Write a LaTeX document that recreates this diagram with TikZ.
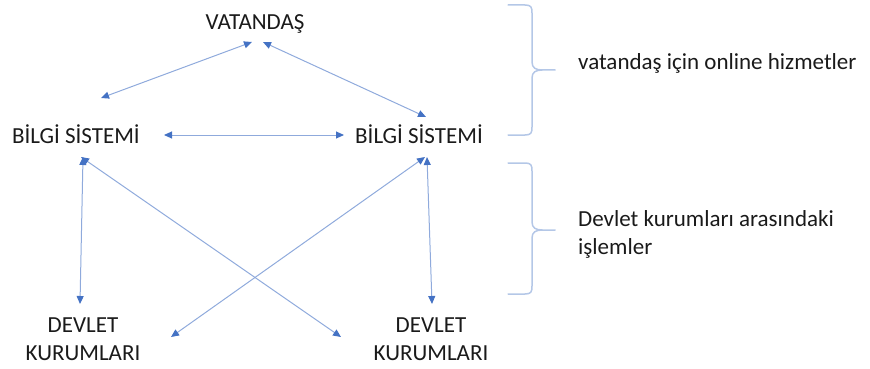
\documentclass[tikz,border=0pt]{standalone}
\usepackage{fontspec}
\setmainfont{Carlito}
\usetikzlibrary{arrows.meta,calc}
\definecolor{linkblue}{HTML}{8FAADC}
\definecolor{tipblue}{HTML}{4472C4}
\definecolor{braceblue}{HTML}{B4C7E7}
\definecolor{ink}{HTML}{1A1A1A}
\tikzset{
  label text/.style={inner sep=0pt, anchor=base, text=ink, font=\fontsize{23}{28}\selectfont},
  side text/.style={label text, anchor=base west, align=left},
  stack text/.style={label text, align=center},
  link/.style={draw=linkblue, line width=1pt,
    {Triangle[length=8pt,width=7pt,color=tipblue]}-{Triangle[length=8pt,width=7pt,color=tipblue]}},
  brace/.style={draw=braceblue, line width=1.5pt, line cap=round, line join=round}
}
\begin{document}
\begin{tikzpicture}[x=1pt,y=-1pt]
  \useasboundingbox (0,0) rectangle (870,369);

  % entities (two-line nodes sit on the baseline of their last line)
  \node[label text] (vat) at (255,30) {VATANDAŞ};
  \node[label text] (bsL) at (76,143) {BİLGİ SİSTEMİ};
  \node[label text] (bsR) at (419,143) {BİLGİ SİSTEMİ};
  \node[stack text] (dkL) at (83,360) {DEVLET\\KURUMLARI};
  \node[stack text] (dkR) at (431,360) {DEVLET\\KURUMLARI};

  % arrow end points around the entities
  \coordinate (vatL) at ($(vat.base)+(-3,12)$);
  \coordinate (vatR) at ($(vat.base)+(8,12)$);
  \coordinate (bsLtop) at ($(bsL.base)+(25,-45)$);
  \coordinate (bsLright) at ($(bsL.base)+(88,-8)$);
  \coordinate (bsLv) at ($(bsL.base)+(7,14)$);
  \coordinate (bsLd) at ($(bsL.base)+(5,14)$);
  \coordinate (bsRtop) at ($(bsR.base)+(7,-26)$);
  \coordinate (bsRleft) at ($(bsR.base)+(-75,-8)$);
  \coordinate (bsRv) at ($(bsR.base)+(8,14)$);
  \coordinate (bsRd) at ($(bsR.base)+(6,14)$);
  \coordinate (dkLtop) at ($(dkL.base)+(-3,-56)$);
  \coordinate (dkLright) at ($(dkL.base)+(88,-23)$);
  \coordinate (dkRtop) at ($(dkR.base)+(1,-56)$);
  \coordinate (dkRleft) at ($(dkR.base)+(-90,-23)$);

  % connectors
  \draw[link] (vatL) -- (bsLtop);
  \draw[link] (vatR) -- (bsRtop);
  \draw[link] (bsLright) -- (bsRleft);
  \draw[link] (bsLv) -- (dkLtop);
  \draw[link] (bsLd) -- (dkRleft);
  \draw[link] (bsRd) -- (dkLright);
  \draw[link] (bsRv) -- (dkRtop);

  % braces
  \draw[brace] (508,5) -- (525,5) .. controls (531,5) and (532,7) .. (532,13)
    -- (532,62) .. controls (532,68) and (536,70) .. (542,70) -- (555,70);
  \draw[brace] (542,70) .. controls (536,70) and (532,72) .. (532,78)
    -- (532,127) .. controls (532,133) and (531,135) .. (525,135) -- (508,135);
  \draw[brace] (508,163) -- (525,163) .. controls (531,163) and (532,165) .. (532,171)
    -- (532,222) .. controls (532,228) and (536,230) .. (542,230) -- (555,230);
  \draw[brace] (542,230) .. controls (536,230) and (532,232) .. (532,238)
    -- (532,286) .. controls (532,292) and (531,294) .. (525,294) -- (508,294);

  % brace captions
  \node[side text] (capA) at (578,70) {vatandaş için online hizmetler};
  \node[side text] (capB) at (578,254) {Devlet kurumları arasındaki\\işlemler};
\end{tikzpicture}
\end{document}
